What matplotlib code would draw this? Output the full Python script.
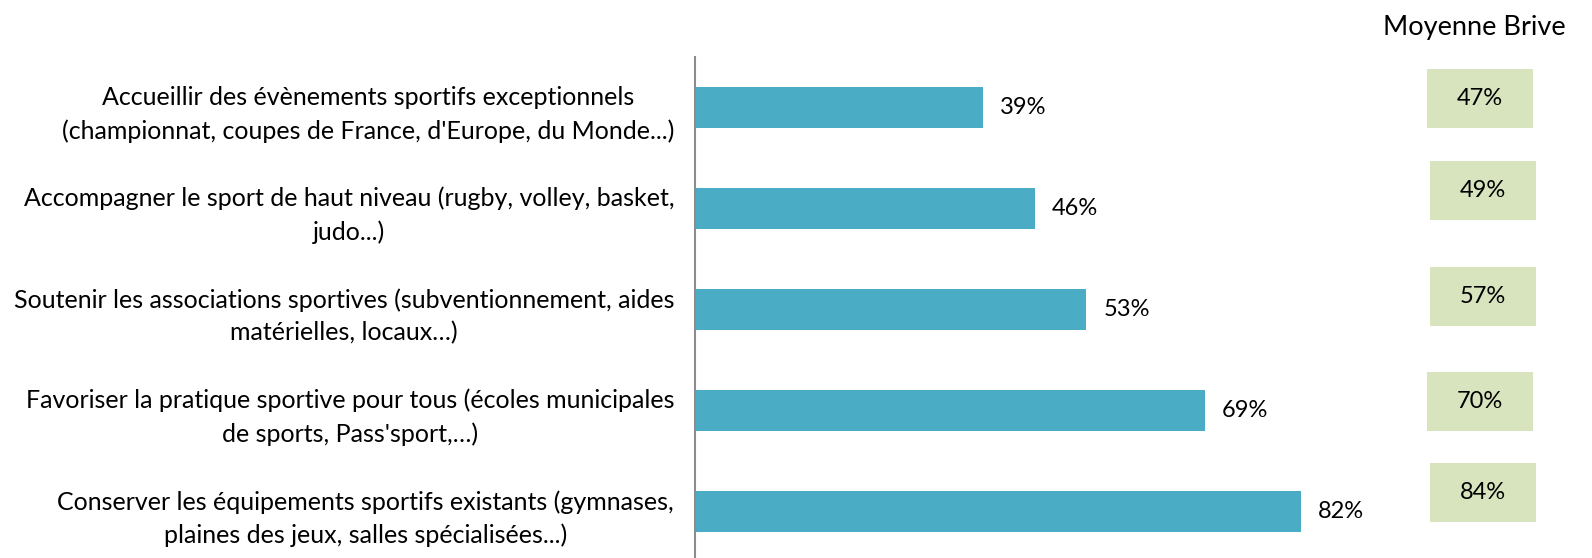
import matplotlib.pyplot as plt
from matplotlib.patches import Rectangle

plt.rcParams['font.family'] = ['Lato', 'DejaVu Sans']

actions = [
    "Accueillir des évènements sportifs exceptionnels\n(championnat, coupes de France, d'Europe, du Monde...)",
    "Accompagner le sport de haut niveau (rugby, volley, basket,\njudo...)",
    "Soutenir les associations sportives (subventionnement, aides\nmatérielles, locaux…)",
    "Favoriser la pratique sportive pour tous (écoles municipales\nde sports, Pass'sport,…)",
    "Conserver les équipements sportifs existants (gymnases,\nplaines des jeux, salles spécialisées...)",
]
valeurs = [39, 46, 53, 69, 82]
moyenne_brive = [47, 49, 57, 70, 84]

bar_color = '#4BACC6'
box_color = '#D7E4BD'

W, H = 1592, 558
fig = plt.figure(figsize=(W / 100, H / 100), dpi=100)
# axes: left edge at the vertical line, spans to the right edge
ax = fig.add_axes([695 / W, 0, 1 - 695 / W, (H - 57) / H])

px_per_unit = 7.385
ax.set_xlim(0, (W - 695) / px_per_unit)
ax.set_ylim(-0.5 + (H - 57) / 101, -0.5)

y = range(len(actions))
ax.barh(y, valeurs, height=0.4, color=bar_color)
for i, v in enumerate(valeurs):
    ax.text(v + 2.3, i, f"{v}%", va='center', ha='left', fontsize=17)

# boxes "Moyenne Brive" (hand-placed shapes, slightly uneven)
box_w, box_h = 14.4, 0.59
box_x0 = [99.1, 99.5, 99.5, 99.1, 99.5]
box_dy = [-0.09, -0.18, -0.13, -0.09, -0.19]
for i, m in enumerate(moyenne_brive):
    yc = i + box_dy[i]
    ax.add_patch(Rectangle((box_x0[i], yc - box_h / 2), box_w, box_h,
                           facecolor=box_color, edgecolor='none', clip_on=False))
    ax.text(box_x0[i] + box_w / 2, yc, f"{m}%", ha='center', va='center', fontsize=17)

fig.text(1474 / W, 1 - 27 / H, "Moyenne Brive", ha='center', va='center', fontsize=19.5)

ax.set_yticks(list(y))
ax.set_yticklabels(actions, fontsize=18, linespacing=1.5)
for lab in ax.get_yticklabels():
    lab.set_multialignment('center')
ax.tick_params(axis='y', length=0, pad=15)
ax.set_xticks([])

for s in ['top', 'right', 'bottom']:
    ax.spines[s].set_visible(False)
ax.spines['left'].set_color('#8c8c8c')
ax.spines['left'].set_linewidth(1.5)

fig.savefig('out.png', dpi=100)
